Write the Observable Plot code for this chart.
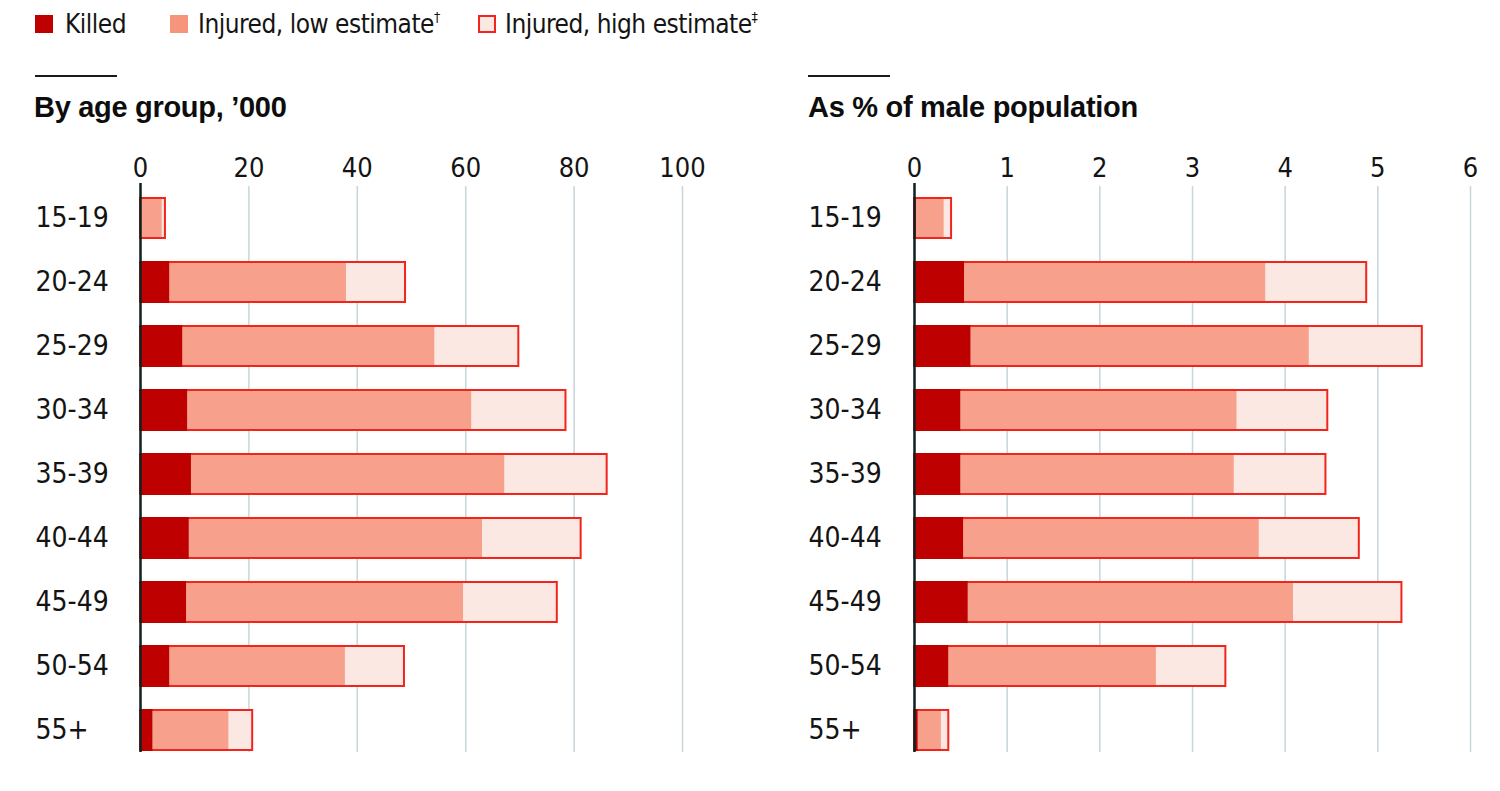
<!DOCTYPE html>
<html>
<head>
<meta charset="utf-8">
<script src="https://cdn.jsdelivr.net/npm/d3@7"></script>
<script src="https://cdn.jsdelivr.net/npm/@observablehq/plot@0.6"></script>
<style>
  html, body { margin: 0; padding: 0; background: #fff; }
  #root { position: relative; width: 1500px; height: 791px; overflow: hidden; background: #fff;
          font-family: 'Liberation Sans Narrow', 'DejaVu Sans Condensed', 'Liberation Sans', sans-serif; color: #141414; }
  .leg { position: absolute; top: 10px; height: 28px; line-height: 28px; font-size: 26px; letter-spacing: -0.5px; white-space: nowrap; }
  .sw { position: absolute; top: 15px; width: 18px; height: 18px; box-sizing: border-box; }
  .leg sup { font-size: 14px; vertical-align: top; line-height: 16px; position: relative; top: -1px; }
  .rule { position: absolute; top: 75px; width: 82px; height: 2px; background: #1a1a1a; }
  .title { position: absolute; top: 93px; font-family: 'Liberation Sans', Arial, sans-serif; font-weight: bold;
           font-size: 29px; line-height: 29px; white-space: nowrap; color: #0d0d0d; letter-spacing: -0.3px; }
  .panel { position: absolute; top: 140px; }
</style>
</head>
<body>
<div id="root">
  <div class="sw" style="left:35px;background:#bf0000"></div>
  <div class="leg" style="left:65px">Killed</div>
  <div class="sw" style="left:170px;background:#f7957c"></div>
  <div class="leg" style="left:198px">Injured, low estimate<sup>†</sup></div>
  <div class="sw" style="left:478px;background:#fce8e3;border:2px solid #f2241b"></div>
  <div class="leg" style="left:505px">Injured, high estimate<sup>‡</sup></div>

  <div class="rule" style="left:35px"></div>
  <div class="title" style="left:34px">By age group, ’000</div>
  <div class="rule" style="left:808px"></div>
  <div class="title" style="left:808px">As % of male population</div>

  <div class="panel" id="left" style="left:0px"></div>
  <div class="panel" id="right" style="left:760px"></div>
</div>
<script>
// ---- data ----
const ages = ["15-19", "20-24", "25-29", "30-34", "35-39", "40-44", "45-49", "50-54", "55+"];

// By age group, '000
const killedK      = [0.2, 5.4, 7.8, 8.7, 9.4, 9.0, 8.5, 5.4, 2.3];
const injuredLowK  = [3.8, 32.6, 46.5, 52.4, 57.8, 54.1, 51.1, 32.4, 14.0];
const injuredHighK = [4.4, 43.5, 62.0, 69.8, 76.7, 72.3, 68.4, 43.3, 18.4];
const ticksK = [0, 20, 40, 60, 80, 100];

// As % of male population
const killedPct      = [0.02, 0.54, 0.61, 0.50, 0.50, 0.53, 0.58, 0.37, 0.04];
const injuredLowPct  = [0.30, 3.25, 3.65, 2.98, 2.95, 3.19, 3.51, 2.24, 0.25];
const injuredHighPct = [0.38, 4.34, 4.87, 3.96, 3.94, 4.27, 4.68, 2.99, 0.33];
const ticksPct = [0, 1, 2, 3, 4, 5, 6];

const C_KILLED = "#bf0000";
const C_LOW = "#f7a08b";
const C_HIGH = "#fce8e3";
const C_STROKE = "#f2241b";

function panel(killed, low, high, ticks, cfg) {
  const data = ages.map((age, i) => ({
    age,
    killed: killed[i],
    lowEnd: killed[i] + low[i],
    highEnd: killed[i] + high[i]
  }));
  return Plot.plot({
    width: cfg.width,
    height: 642,
    marginLeft: cfg.marginLeft,
    marginRight: cfg.marginRight,
    marginTop: 46,
    marginBottom: 20,
    style: {
      fontFamily: "'Liberation Sans Narrow', 'DejaVu Sans Condensed', 'Liberation Sans', sans-serif",
      fontSize: "28px",
      color: "#141414",
      background: "transparent",
      overflow: "visible"
    },
    x: { domain: [ticks[0], ticks[ticks.length - 1]] },
    y: { domain: ages, paddingInner: 0.34, paddingOuter: 0.17 },
    marks: [
      Plot.gridX(ticks, { stroke: "#c8d5da", strokeOpacity: 1, strokeWidth: 1.5, insetBottom: 10 }),
      Plot.axisX(ticks, { anchor: "top", tickSize: 0, tickPadding: 10, label: null, fontSize: 27 }),
      Plot.axisY({ tickSize: 0, tickPadding: 0, textAnchor: "start", dx: cfg.labelDx, label: null }),
      Plot.barX(data, { y: "age", x1: 0, x2: "highEnd", fill: C_HIGH, stroke: C_STROKE, strokeWidth: 2, insetTop: 1, insetBottom: 1 }),
      Plot.barX(data, { y: "age", x1: "killed", x2: "lowEnd", fill: C_LOW, insetTop: 2, insetBottom: 2 }),
      Plot.barX(data, { y: "age", x1: 0, x2: "killed", fill: C_KILLED }),
      Plot.ruleX([0], { stroke: "#102020", strokeWidth: 2.5, insetTop: -3, insetBottom: 10 })
    ]
  });
}

document.getElementById("left").append(
  panel(killedK, injuredLowK, injuredHighK, ticksK, { width: 760, marginLeft: 140, marginRight: 78, labelDx: -105 })
);
document.getElementById("right").append(
  panel(killedPct, injuredLowPct, injuredHighPct, ticksPct, { width: 740, marginLeft: 154, marginRight: 30, labelDx: -106 })
);
</script>
</body>
</html>
